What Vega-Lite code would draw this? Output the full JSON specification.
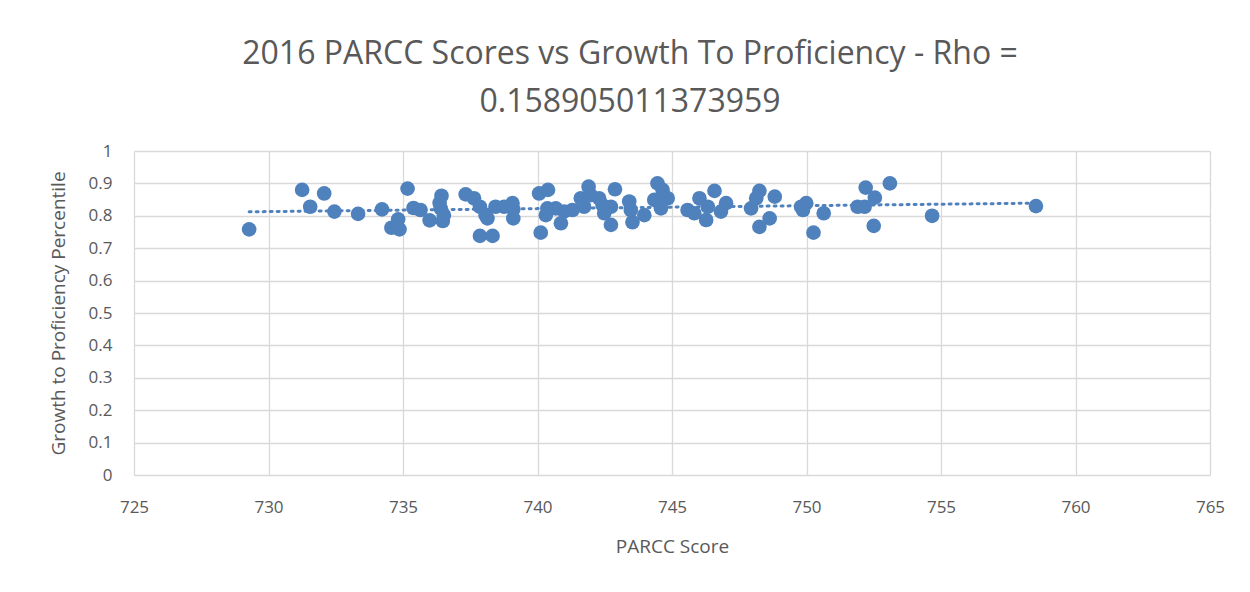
{
  "$schema": "https://vega.github.io/schema/vega-lite/v6.json",
  "width": 1076,
  "height": 324,
  "autosize": {"type": "none"},
  "padding": {"left": 134, "top": 151, "right": 40, "bottom": 117},
  "background": "white",
  "title": {
    "text": ["2016 PARCC Scores vs Growth To Proficiency - Rho =", "0.158905011373959"],
    "font": "Open Sans",
    "fontSize": 32,
    "fontWeight": 400,
    "color": "#595959",
    "lineHeight": 48,
    "anchor": "middle",
    "dx": -42,
    "offset": 23
  },
  "config": {
    "view": {"stroke": null},
    "axis": {
      "labelFont": "Open Sans",
      "titleFont": "Open Sans",
      "labelColor": "#595959",
      "titleColor": "#595959",
      "labelFontSize": 17,
      "titleFontSize": 19,
      "titleFontWeight": 400,
      "gridColor": "#d9d9d9",
      "gridWidth": 1.3,
      "ticks": false,
      "domain": false,
      "labelFlush": false
    }
  },
  "data": {
    "values": [
      {"score": 729.28, "growth": 0.758},
      {"score": 731.25, "growth": 0.88},
      {"score": 731.55, "growth": 0.828},
      {"score": 732.07, "growth": 0.869},
      {"score": 732.45, "growth": 0.813},
      {"score": 733.33, "growth": 0.806},
      {"score": 734.22, "growth": 0.82},
      {"score": 734.57, "growth": 0.763},
      {"score": 734.82, "growth": 0.789},
      {"score": 734.87, "growth": 0.758},
      {"score": 735.17, "growth": 0.884},
      {"score": 735.39, "growth": 0.824},
      {"score": 735.65, "growth": 0.818},
      {"score": 735.99, "growth": 0.786},
      {"score": 736.4, "growth": 0.823},
      {"score": 736.43, "growth": 0.862},
      {"score": 736.36, "growth": 0.84},
      {"score": 736.48, "growth": 0.784},
      {"score": 736.52, "growth": 0.802},
      {"score": 737.33, "growth": 0.866},
      {"score": 737.64, "growth": 0.854},
      {"score": 737.86, "growth": 0.828},
      {"score": 738.07, "growth": 0.802},
      {"score": 738.14, "growth": 0.792},
      {"score": 737.86, "growth": 0.738},
      {"score": 738.33, "growth": 0.738},
      {"score": 738.44, "growth": 0.828},
      {"score": 738.76, "growth": 0.828},
      {"score": 739.07, "growth": 0.839},
      {"score": 739.1, "growth": 0.792},
      {"score": 739.1, "growth": 0.82},
      {"score": 740.06, "growth": 0.869},
      {"score": 740.39, "growth": 0.88},
      {"score": 740.12, "growth": 0.748},
      {"score": 740.31, "growth": 0.802},
      {"score": 740.37, "growth": 0.823},
      {"score": 740.68, "growth": 0.823},
      {"score": 740.87, "growth": 0.777},
      {"score": 740.99, "growth": 0.813},
      {"score": 741.3, "growth": 0.818},
      {"score": 741.61, "growth": 0.854},
      {"score": 741.73, "growth": 0.828},
      {"score": 741.9, "growth": 0.89},
      {"score": 741.98, "growth": 0.864},
      {"score": 742.29, "growth": 0.854},
      {"score": 742.42, "growth": 0.833},
      {"score": 742.48, "growth": 0.808},
      {"score": 742.73, "growth": 0.828},
      {"score": 742.73, "growth": 0.772},
      {"score": 742.88, "growth": 0.882},
      {"score": 743.41, "growth": 0.844},
      {"score": 743.53, "growth": 0.78},
      {"score": 743.47, "growth": 0.818},
      {"score": 743.97, "growth": 0.802},
      {"score": 744.46, "growth": 0.9},
      {"score": 744.65, "growth": 0.88},
      {"score": 744.34, "growth": 0.849},
      {"score": 744.59, "growth": 0.823},
      {"score": 744.84, "growth": 0.854},
      {"score": 745.58, "growth": 0.818},
      {"score": 745.83, "growth": 0.808},
      {"score": 746.02, "growth": 0.854},
      {"score": 746.27, "growth": 0.787},
      {"score": 746.33, "growth": 0.828},
      {"score": 746.58, "growth": 0.877},
      {"score": 746.82, "growth": 0.813},
      {"score": 747.01, "growth": 0.839},
      {"score": 747.94, "growth": 0.823},
      {"score": 748.25, "growth": 0.877},
      {"score": 748.13, "growth": 0.854},
      {"score": 748.25, "growth": 0.766},
      {"score": 748.63, "growth": 0.792},
      {"score": 748.82, "growth": 0.859},
      {"score": 749.99, "growth": 0.839},
      {"score": 749.8, "growth": 0.828},
      {"score": 749.87, "growth": 0.818},
      {"score": 750.26, "growth": 0.748},
      {"score": 750.64, "growth": 0.808},
      {"score": 751.9, "growth": 0.828},
      {"score": 752.16, "growth": 0.828},
      {"score": 752.2, "growth": 0.887},
      {"score": 752.54, "growth": 0.856},
      {"score": 752.5, "growth": 0.769},
      {"score": 753.1, "growth": 0.9},
      {"score": 754.67, "growth": 0.8},
      {"score": 758.53, "growth": 0.83}
    ]
  },
  "encoding": {
    "x": {
      "field": "score",
      "type": "quantitative",
      "scale": {"domain": [725, 765], "nice": false, "zero": false},
      "axis": {"values": [725, 730, 735, 740, 745, 750, 755, 760, 765], "title": "PARCC Score", "labelPadding": 24, "titlePadding": 22}
    },
    "y": {
      "field": "growth",
      "type": "quantitative",
      "scale": {"domain": [0, 1], "nice": false},
      "axis": {"values": [0, 0.1, 0.2, 0.3, 0.4, 0.5, 0.6, 0.7, 0.8, 0.9, 1], "format": "~g", "title": "Growth to Proficiency Percentile", "labelPadding": 22, "titlePadding": 20}
    }
  },
  "layer": [
    {
      "mark": {"type": "circle", "size": 215, "color": "#4F81BD", "opacity": 1}
    },
    {
      "transform": [{"regression": "growth", "on": "score"}],
      "mark": {"type": "line", "color": "#4F81BD", "strokeWidth": 3, "strokeDash": [2, 5], "strokeCap": "round"}
    }
  ]
}
